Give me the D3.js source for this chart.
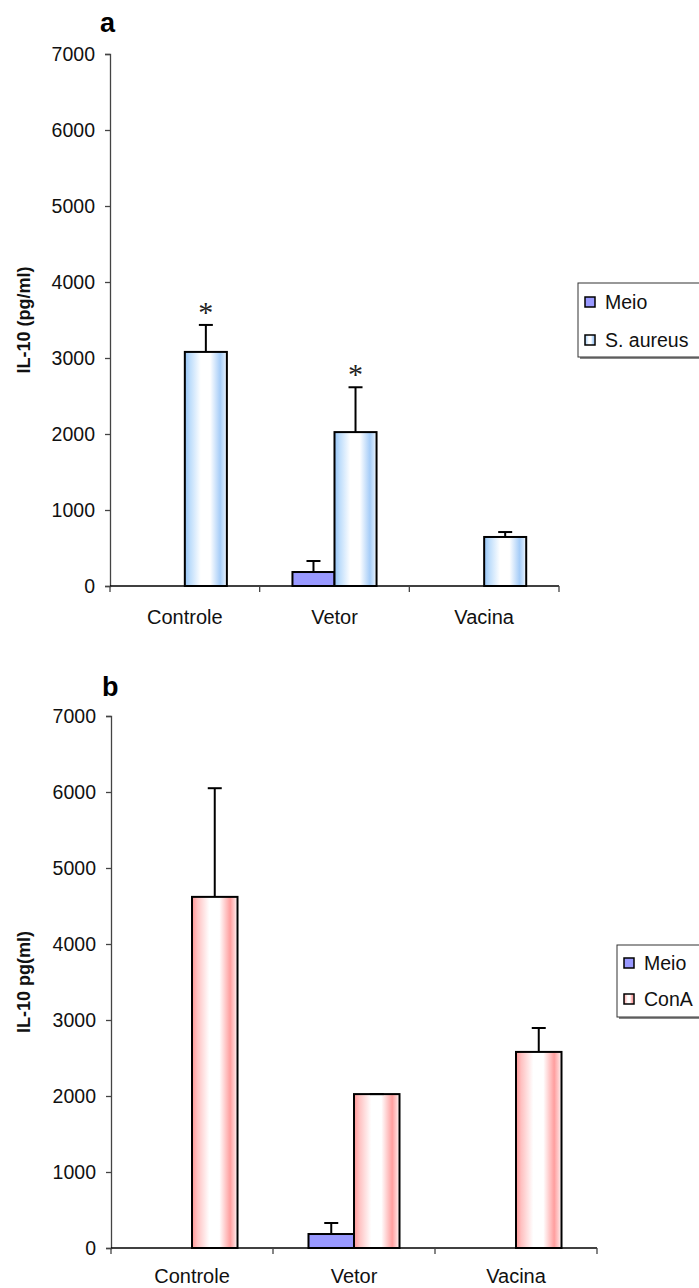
<!DOCTYPE html>
<html>
<head>
<meta charset="utf-8">
<script src="https://cdn.jsdelivr.net/npm/d3@7"></script>
<style>
    body { margin: 0; background: #fff; }
    svg { display: block; font-family: "Liberation Sans", Arial, sans-serif; }
</style>
</head>
<body>
<svg id="chart" width="699" height="1288"></svg>
<script>
const groups = ["Controle", "Vetor", "Vacina"];
const yTicks = [0, 1000, 2000, 3000, 4000, 5000, 6000, 7000];

// panel a
const meioA = [0, 184, 0];
const meioErrA = [0, 145, 0];
const aureusA = [3080, 2025, 645];
const aureusErrA = [355, 590, 65];
const starsA = [true, true, false];

// panel b
const meioB = [0, 184, 0];
const meioErrB = [0, 145, 0];
const conAB = [4620, 2025, 2580];
const conAErrB = [1430, 0, 315];

const svg = d3.select("#chart");
const defs = svg.append("defs");

function gradient(id, stops) {
    const g = defs.append("linearGradient").attr("id", id)
        .attr("x1", 0).attr("x2", 1).attr("y1", 0).attr("y2", 0);
    stops.forEach(s => g.append("stop").attr("offset", s[0]).attr("stop-color", s[1]));
}

gradient("blueBar", [[0, "#94c3f5"], [0.12, "#bcdcfb"], [0.38, "#ffffff"], [0.6, "#ffffff"],
    [0.84, "#a6cdf8"], [0.94, "#cfe5fc"], [1, "#ffffff"]]);
gradient("redBar", [[0, "#ff9696"], [0.12, "#ffc2c2"], [0.38, "#ffffff"], [0.6, "#ffffff"],
    [0.84, "#ff9e9e"], [0.94, "#ffd2d2"], [1, "#ffffff"]]);

function drawPanel(p) {
    const g = svg.append("g");

    const x = d3.scaleBand().domain(groups).range([p.x0, p.x1]);
    const inner = d3.scaleBand().domain(["meio", "stim"])
        .range([0, x.bandwidth()]).paddingInner(0).paddingOuter(0.78);
    const y = d3.scaleLinear().domain([0, 7000]).range([p.y0, p.y1]);

    // y axis
    const yAxis = g.append("g")
        .attr("transform", `translate(${p.x0},0)`)
        .call(d3.axisLeft(y).tickValues(yTicks).tickFormat(d3.format("d")).tickSize(5).tickPadding(10));
    yAxis.select(".domain").attr("stroke", "#444").attr("stroke-width", 1.3);
    yAxis.selectAll(".tick line").attr("stroke", "#444").attr("stroke-width", 1.3);
    yAxis.selectAll(".tick text").attr("font-size", 19.5).attr("fill", "#111")
        .attr("font-family", "Liberation Sans, Arial, sans-serif");

    const rows = groups.map((name, i) => ({
        name,
        bars: [
            {key: "meio", v: p.meio[i], e: p.meioErr[i], fill: "#9999ff"},
            {key: "stim", v: p.stim[i], e: p.stimErr[i], fill: `url(#${p.grad})`, star: p.stars && p.stars[i]}
        ]
    }));

    const grp = g.selectAll("g.group")
        .data(rows)
        .join("g")
        .attr("class", "group")
        .attr("transform", d => `translate(${x(d.name)},0)`);

    const bar = grp.selectAll("g.bar")
        .data(d => d.bars)
        .join("g")
        .attr("class", "bar");

    bar.append("rect")
        .attr("x", d => inner(d.key))
        .attr("width", inner.bandwidth())
        .attr("y", d => y(d.v))
        .attr("height", d => y(0) - y(d.v))
        .attr("fill", d => d.fill)
        .attr("stroke", "#000")
        .attr("stroke-width", 2);

    // error bars, upper side only
    const cx = d => inner(d.key) + inner.bandwidth() / 2;
    bar.filter(d => d.v > 0).append("line")
        .attr("x1", cx).attr("x2", cx)
        .attr("y1", d => y(d.v)).attr("y2", d => y(d.v + d.e))
        .attr("stroke", "#000").attr("stroke-width", 2);
    bar.filter(d => d.v > 0).append("line")
        .attr("x1", d => cx(d) - 7).attr("x2", d => cx(d) + 7)
        .attr("y1", d => y(d.v + d.e)).attr("y2", d => y(d.v + d.e))
        .attr("stroke", "#000").attr("stroke-width", 2);

    bar.filter(d => d.star).append("text")
        .attr("x", cx)
        .attr("y", d => y(d.v + d.e) - 3)
        .attr("text-anchor", "middle")
        .attr("font-size", 30)
        .attr("font-family", "Liberation Serif, serif")
        .attr("fill", "#222")
        .text("*");

    // x axis
    const xAxis = g.append("g")
        .attr("transform", `translate(0,${p.y0})`);
    xAxis.append("line")
        .attr("x1", p.x0).attr("x2", p.x1)
        .attr("stroke", "#000").attr("stroke-width", 1.5);
    xAxis.selectAll("line.tick")
        .data(groups.slice(1).concat(["__end"]))
        .join("line")
        .attr("class", "tick")
        .attr("x1", d => d === "__end" ? p.x1 : x(d))
        .attr("x2", d => d === "__end" ? p.x1 : x(d))
        .attr("y1", 0).attr("y2", 6)
        .attr("stroke", "#444").attr("stroke-width", 1.3);
    xAxis.append("line")
        .attr("x1", p.x0).attr("x2", p.x0).attr("y1", 0).attr("y2", 6)
        .attr("stroke", "#444").attr("stroke-width", 1.3);
    xAxis.selectAll("text")
        .data(groups)
        .join("text")
        .attr("x", d => x(d) + x.bandwidth() / 2)
        .attr("y", p.labelDy)
        .attr("text-anchor", "middle")
        .attr("font-size", 20)
        .attr("fill", "#111")
        .text(d => d);

    // y title
    g.append("text")
        .attr("transform", `translate(${p.titleX},${(p.y0 + p.y1) / 2}) rotate(-90)`)
        .attr("text-anchor", "middle")
        .attr("font-weight", "bold")
        .attr("font-size", 18)
        .attr("fill", "#111")
        .text(p.title);

    // panel letter
    g.append("text")
        .attr("x", p.letterX).attr("y", p.letterY)
        .attr("font-weight", "bold")
        .attr("font-size", 27)
        .attr("fill", "#000")
        .text(p.letter);

    // legend
    const lg = g.append("g").attr("transform", `translate(${p.legX},${p.legY})`);
    lg.append("rect")
        .attr("x", 2).attr("y", 2).attr("width", 160).attr("height", p.legH)
        .attr("fill", "#888");
    lg.append("rect")
        .attr("x", 0).attr("y", 0).attr("width", 160).attr("height", p.legH)
        .attr("fill", "#fff").attr("stroke", "#333").attr("stroke-width", 1);
    const items = [
        {label: "Meio", fill: "#9999ff"},
        {label: p.stimLabel, fill: `url(#${p.grad})`}
    ];
    const li = lg.selectAll("g.item")
        .data(items)
        .join("g")
        .attr("class", "item")
        .attr("transform", (d, i) => `translate(7,${p.legRow[i]})`);
    li.append("rect")
        .attr("x", 0).attr("y", -5).attr("width", 10).attr("height", 10)
        .attr("fill", d => d.fill).attr("stroke", "#000").attr("stroke-width", 1.5);
    li.append("text")
        .attr("x", p.legTextX).attr("y", 7)
        .attr("font-size", 19.5)
        .attr("fill", "#111")
        .text(d => d.label);
}

drawPanel({
    letter: "a", letterX: 100, letterY: 32,
    title: "IL-10 (pg/ml)", titleX: 30,
    x0: 110, x1: 559, y0: 586, y1: 54, labelDy: 38,
    meio: meioA, meioErr: meioErrA, stim: aureusA, stimErr: aureusErrA, stars: starsA,
    grad: "blueBar", stimLabel: "S. aureus",
    legX: 578, legY: 283, legH: 74, legRow: [19, 57], legTextX: 20
});

drawPanel({
    letter: "b", letterX: 102, letterY: 696,
    title: "IL-10 pg(ml)", titleX: 30,
    x0: 111, x1: 597, y0: 1248, y1: 716, labelDy: 35,
    meio: meioB, meioErr: meioErrB, stim: conAB, stimErr: conAErrB, stars: null,
    grad: "redBar", stimLabel: "ConA",
    legX: 617, legY: 945, legH: 72, legRow: [18, 54], legTextX: 20
});
</script>
</body>
</html>
